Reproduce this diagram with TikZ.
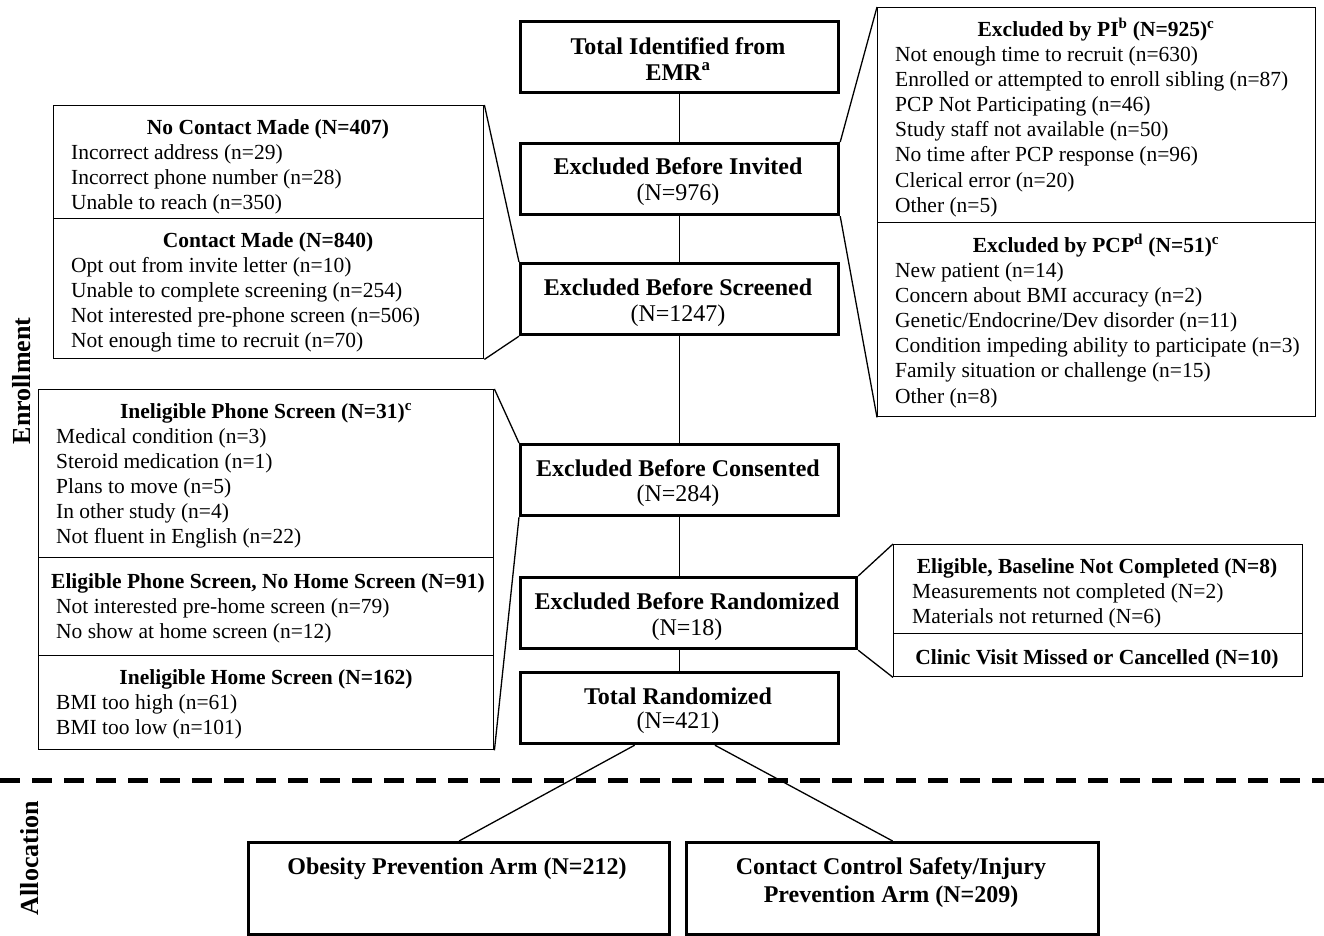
\documentclass[tikz,border=0pt]{standalone}
\usepackage{fontspec}
\setmainfont{Liberation Serif}
\usetikzlibrary{calc}
\tikzset{
  mainbox/.style={draw, line width=3.2pt, anchor=north west, inner sep=0pt},
  sidebox/.style={draw, line width=1.4pt, anchor=north west, inner sep=0pt, fill=white},
  mt/.style={font=\fontsize{24}{26}\selectfont\bfseries, anchor=base, inner sep=0pt},
  mn/.style={font=\fontsize{24}{26}\selectfont, anchor=base, inner sep=0pt},
  sh/.style={font=\fontsize{21.5}{25}\selectfont\bfseries, anchor=base, inner sep=0pt},
  si/.style={font=\fontsize{21.5}{25}\selectfont, anchor=base west, inner sep=0pt},
  conn/.style={line width=1.3pt},
  sidelabel/.style={font=\fontsize{26}{28}\selectfont\bfseries, rotate=90, inner sep=0pt},
}
\begin{document}
\begin{tikzpicture}[x=1pt, y=-1pt]
\useasboundingbox (0,0) rectangle (1324,935);

% ---------- main column ----------
\node[mainbox, minimum width=318pt, minimum height=71pt] (emr) at (519,20) {};
\node[mt] (emr-t1) at (678,54) {Total Identified from};
\node[mt] (emr-t2) at (678,80) {EMR\textsuperscript{a}};

\node[mainbox, minimum width=318pt, minimum height=71pt] (inv) at (519,142) {};
\node[mt] (inv-t1) at (678,174) {Excluded Before Invited};
\node[mn] (inv-t2) at (678,200) {(N=976)};

\node[mainbox, minimum width=318pt, minimum height=71pt] (scr) at (519,262) {};
\node[mt] (scr-t1) at (678,295) {Excluded Before Screened};
\node[mn] (scr-t2) at (678,321) {(N=1247)};

\node[mainbox, minimum width=318pt, minimum height=71pt] (con) at (519,443) {};
\node[mt] (con-t1) at (678,476) {Excluded Before Consented};
\node[mn] (con-t2) at (678,501) {(N=284)};

\node[mainbox, minimum width=336pt, minimum height=71pt] (ran) at (519,576) {};
\node[mt] (ran-t1) at (687,609) {Excluded Before Randomized};
\node[mn] (ran-t2) at (687,635) {(N=18)};

\node[mainbox, minimum width=318pt, minimum height=71pt] (tot) at (519,671) {};
\node[mt] (tot-t1) at (678,704) {Total Randomized};
\node[mn] (tot-t2) at (678,728) {(N=421)};

\draw[conn] (emr.south) -- (inv.north);
\draw[conn] (inv.south) -- (scr.north);
\draw[conn] (scr.south) -- (con.north);
\draw[conn] (con.south) -- (con.south |- ran.north);
\draw[conn] (con.south |- ran.south) -- (tot.north);

% ---------- right: PI / PCP ----------
\node[sidebox, minimum width=438pt, minimum height=215pt] (pi) at (877,7) {};
\node[sh] (pi-h) at (1096,36) {Excluded by PI\textsuperscript{b} (N=925)\textsuperscript{c}};
\foreach \t [count=\i from 0] in {Not enough time to recruit (n=630),
  Enrolled or attempted to enroll sibling (n=87),
  PCP Not Participating (n=46),
  Study staff not available (n=50),
  No time after PCP response (n=96),
  Clerical error (n=20),
  Other (n=5)}
  \node[si] (pi-\i) at (895,{61+25.2*\i}) {\t};

\node[sidebox, minimum width=438pt, minimum height=194pt] (pcp) at (877,222) {};
\node[sh] (pcp-h) at (1096,252) {Excluded by PCP\textsuperscript{d} (N=51)\textsuperscript{c}};
\foreach \t [count=\i from 0] in {New patient (n=14),
  Concern about BMI accuracy (n=2),
  Genetic/Endocrine/Dev disorder (n=11),
  Condition impeding ability to participate (n=3),
  Family situation or challenge (n=15),
  Other (n=8)}
  \node[si] (pcp-\i) at (895,{277+25.2*\i}) {\t};

\draw[conn] (inv.north east) -- (pi.north west);
\draw[conn] (inv.south east) -- (pcp.south west);

% ---------- left: contact ----------
\node[sidebox, minimum width=430pt, minimum height=113pt] (nc) at (53,105) {};
\node[sh] (nc-h) at (268,134) {No Contact Made (N=407)};
\foreach \t [count=\i from 0] in {Incorrect address (n=29),
  Incorrect phone number (n=28),
  Unable to reach (n=350)}
  \node[si] (nc-\i) at (71,{159+25.2*\i}) {\t};

\node[sidebox, minimum width=430pt, minimum height=140pt] (cm) at (53,218) {};
\node[sh] (cm-h) at (268,247) {Contact Made (N=840)};
\foreach \t [count=\i from 0] in {Opt out from invite letter (n=10),
  Unable to complete screening (n=254),
  Not interested pre-phone screen (n=506),
  Not enough time to recruit (n=70)}
  \node[si] (cm-\i) at (71,{272+25.2*\i}) {\t};

\draw[conn] (nc.north east) -- (scr.north west);
\draw[conn] (scr.south west) -- (cm.south east);

% ---------- left: screens ----------
\node[sidebox, minimum width=455pt, minimum height=168pt] (ips) at (38,389) {};
\node[sh] (ips-h) at (266,418) {Ineligible Phone Screen (N=31)\textsuperscript{c}};
\foreach \t [count=\i from 0] in {Medical condition (n=3),
  Steroid medication (n=1),
  Plans to move (n=5),
  In other study (n=4),
  Not fluent in English (n=22)}
  \node[si] (ips-\i) at (56,{443+25.2*\i}) {\t};

\node[sidebox, minimum width=455pt, minimum height=98pt] (eps) at (38,557) {};
\node[sh] (eps-h) at (268,588) {Eligible Phone Screen, No Home Screen (N=91)};
\foreach \t [count=\i from 0] in {Not interested pre-home screen (n=79),
  No show at home screen (n=12)}
  \node[si] (eps-\i) at (56,{613+25.2*\i}) {\t};

\node[sidebox, minimum width=455pt, minimum height=94pt] (ihs) at (38,655) {};
\node[sh] (ihs-h) at (266,684) {Ineligible Home Screen (N=162)};
\foreach \t [count=\i from 0] in {BMI too high (n=61),
  BMI too low (n=101)}
  \node[si] (ihs-\i) at (56,{709+25.2*\i}) {\t};

\draw[conn] (ips.north east) -- (con.north west);
\draw[conn] (con.south west) -- (ihs.south east);

% ---------- right: randomization exclusions ----------
\node[sidebox, minimum width=409pt, minimum height=89pt] (elb) at (893,544) {};
\node[sh] (elb-h) at (1097,573) {Eligible, Baseline Not Completed (N=8)};
\foreach \t [count=\i from 0] in {Measurements not completed (N=2),
  Materials not returned (N=6)}
  \node[si] (elb-\i) at (912,{598+25.2*\i}) {\t};

\node[sidebox, minimum width=409pt, minimum height=43pt] (cv) at (893,633) {};
\node[sh] (cv-h) at (1097,664) {Clinic Visit Missed or Cancelled (N=10)};

\draw[conn] (ran.north east) -- (elb.north west);
\draw[conn] (ran.south east) -- (cv.south west);

% ---------- section labels and divider ----------
\node[sidelabel] (enr) at (22,381) {Enrollment};
\node[sidelabel] (alloc) at (30,858) {Allocation};
\coordinate (dl) at (0,780);
\coordinate (dr) at (1324,780);
\draw[line width=5pt, dash pattern=on 20pt off 12pt] (dl) -- (dr);

% ---------- allocation arms ----------
\node[mainbox, minimum width=421pt, minimum height=92pt] (ob) at (247,841) {};
\node[mt] (ob-t) at (457,874) {Obesity Prevention Arm (N=212)};
\node[mainbox, minimum width=412pt, minimum height=92pt] (cc) at (685,841) {};
\node[mt] (cc-t1) at (891,874) {Contact Control Safety/Injury};
\node[mt] (cc-t2) at (891,902) {Prevention Arm (N=209)};

\draw[conn] ($(tot.south west)!0.36!(tot.south east)$) -- (ob.north);
\draw[conn] ($(tot.south west)!0.61!(tot.south east)$) -- (cc.north);
\end{tikzpicture}
\end{document}
